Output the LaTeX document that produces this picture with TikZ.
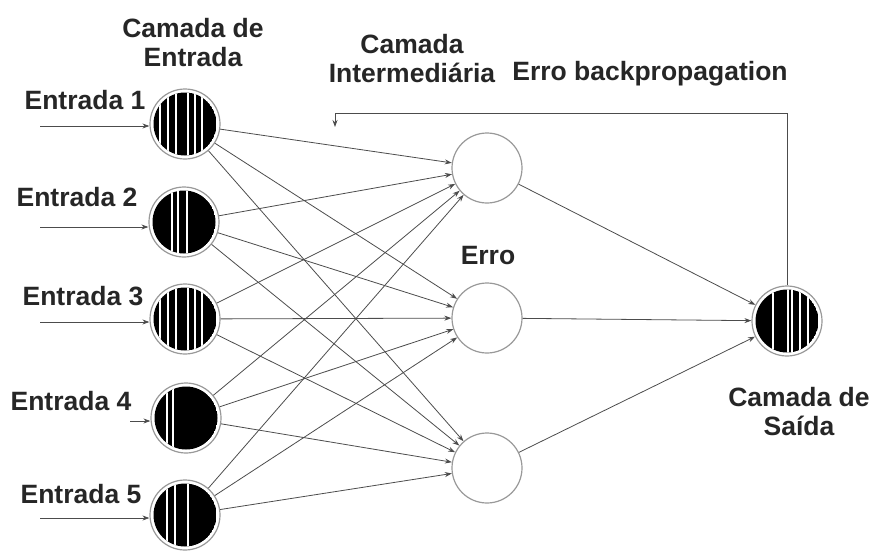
\documentclass[tikz,border=0pt]{standalone}
\usepackage{fontspec}
\setmainfont{Liberation Sans}
\usetikzlibrary{arrows.meta}
\begin{document}
\begin{tikzpicture}[x=1pt,y=-1pt,
  lbl/.style={font=\bfseries\fontsize{26.5}{29}\selectfont, align=center, inner sep=0pt, text=black!85},
  ring/.style={circle, draw=black!40, line width=1.2pt, fill=white, minimum size=70pt, inner sep=0pt},
  arr/.style={draw=black!70, line width=0.8pt, -{Stealth[length=7pt,width=5pt]}},
  ln/.style={draw=black!70, line width=0.8pt}]
\useasboundingbox (0,0) rectangle (870,552);
\newcommand\blacknode[3]{%
  \node[ring] (#1) at (#2) {};
  \begin{scope}
    \clip (#1.center) circle (31.5);
    \fill[black] (#1.center) circle (31.5);
    \foreach \d in {#3} \draw[white, line width=1.3pt] ([xshift=\d pt, yshift=-40pt]#1.center) -- ([xshift=\d pt, yshift=40pt]#1.center);
  \end{scope}}
% input layer
\blacknode{i1}{185,124}{-25,-17,-9,3,10,17}
\blacknode{i2}{184,222}{-12,-6,3}
\blacknode{i3}{185,319}{-25,-17,-9,3,10,17}
\blacknode{i4}{186,418}{-19,-13}
\blacknode{i5}{185,515}{-18,-10,3}
% hidden layer
\node[ring] (h1) at (487,168) {};
\node[ring] (h2) at (487,318) {};
\node[ring] (h3) at (487,468) {};
% output
\blacknode{o}{787,321}{-14,1,5,13,21}
% connections
\foreach \i in {1,...,5}
  \foreach \j in {1,2,3}
    \draw[arr] (i\i) -- (h\j);
\foreach \j in {1,2,3}
  \draw[arr] (h\j) -- (o);
% input arrows
\coordinate (s1) at (40,126);
\coordinate (s2) at (40,227);
\coordinate (s3) at (40,322);
\coordinate (s4) at (130,421);
\coordinate (s5) at (40,518);
\foreach \k in {1,...,5}
  \draw[arr] (s\k) -- (s\k -| i\k.west);
% feedback
\coordinate (c1) at (787,113);
\coordinate (c2) at (335,113);
\coordinate (fb) at (335,127);
\draw[arr] (o.north) -- (c1) -- (c2) -- (fb);
% labels
\node[lbl] (l1) at (85,100) {Entrada 1};
\node[lbl] (l2) at (77,197) {Entrada 2};
\node[lbl] (l3) at (83,296) {Entrada 3};
\node[lbl] (l4) at (71,401) {Entrada 4};
\node[lbl] (l5) at (81,494) {Entrada 5};
\node[lbl] (t1) at (193,43) {Camada de\\Entrada};
\node[lbl] (t2) at (412,59) {Camada\\Intermediária};
\node[lbl] (t3) at (650,74) {Erro backpropagation};
\node[lbl] (t4) at (488,256) {Erro};
\node[lbl] (t5) at (799,412) {Camada de\\Saída};
\end{tikzpicture}
\end{document}
